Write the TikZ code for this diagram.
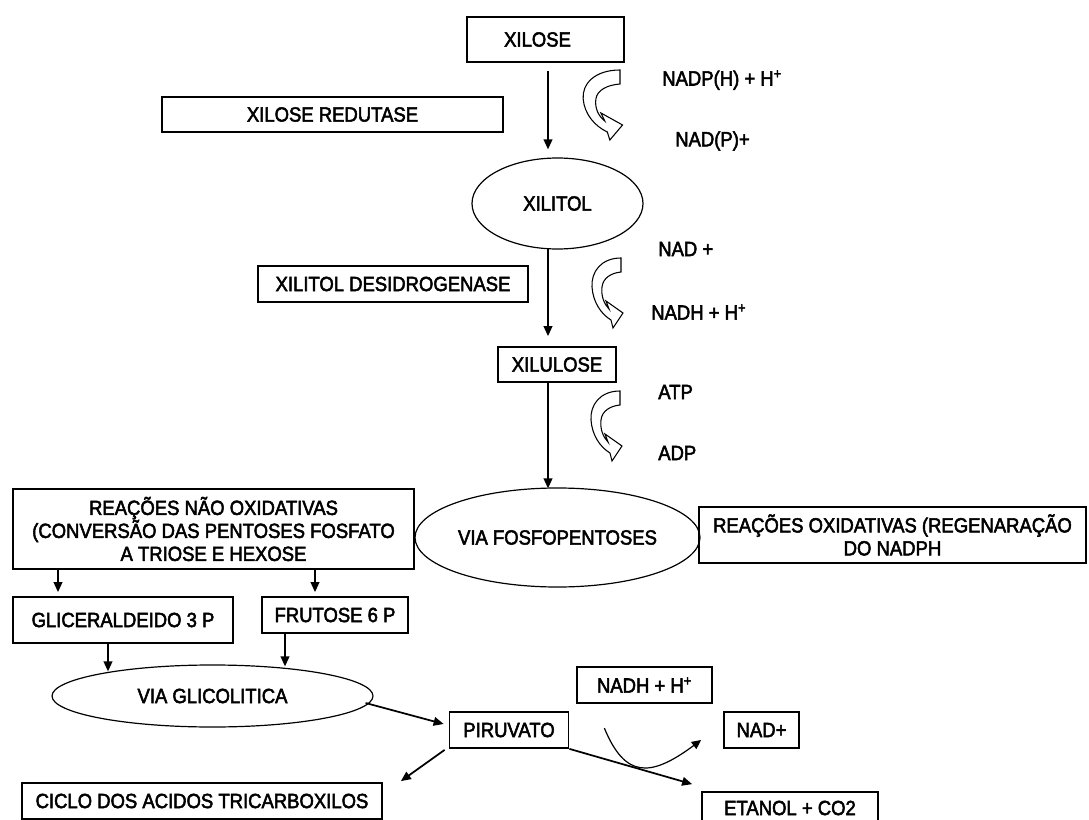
\documentclass[tikz,border=0pt]{standalone}
\usepackage{fontspec}
\setmainfont{Liberation Sans}[FakeStretch=0.9,FakeBold=2.5]
\usetikzlibrary{arrows.meta,calc,shapes.geometric}
\begin{document}
\begin{tikzpicture}[x=0.75pt,y=-0.75pt,
  every node/.style={font=\fontsize{15.4}{17.25}\selectfont, inner sep=0pt, align=center},
  box/.style={draw, line width=1.3pt, rectangle},
  ell/.style={draw, line width=0.9pt, ellipse},
  arr/.style={line width=1.3pt, -{Triangle[length=7.5pt,width=6.5pt]}},
  thinarr/.style={line width=0.9pt, -{Triangle[length=7pt,width=6.5pt]}},
  bentarr/.pic={\draw[line width=0.8pt, fill=white] (0,0) .. controls (-20,0) and (-30,14) .. (-29,29) .. controls (-28,44) and (-20,56) .. (-10,62) -- (-8,70) -- (2,55) -- (-15,43) -- (-12,51) .. controls (-17,46) and (-20,38) .. (-19,29) .. controls (-18,20) and (-10,15) .. (0,14) -- cycle;}
]
\useasboundingbox (0,0) rectangle (1089,820);
\fill[white] (0,0) rectangle (1089,820);

% nodes
\node[box, minimum width=117.75pt, minimum height=33.75pt] (xil) at (545.5,39.5) {\hspace*{-12pt}XILOSE};
\node[box, minimum width=255.75pt, minimum height=26.25pt] (xr) at (332.5,114.5) {XILOSE REDUTASE};
\node[ell, minimum width=128.25pt, minimum height=68.25pt] (xilitol) at (557.5,203.5) {XILITOL};
\node[box, minimum width=202.5pt, minimum height=27pt] (xd) at (393,284) {XILITOL DESIDROGENASE};
\node[box, minimum width=88.5pt, minimum height=26.25pt] (xilu) at (557,364.5) {XILULOSE};
\node[ell, minimum width=213.75pt, minimum height=74.25pt] (vf) at (557.5,537.5) {VIA FOSFOPENTOSES};
\node[box, minimum width=300.75pt, minimum height=60pt] (nox) at (213.5,529) {REAÇÕES NÃO OXIDATIVAS\\(CONVERSÃO DAS PENTOSES FOSFATO\\A TRIOSE E HEXOSE};
\node[box, minimum width=290.25pt, minimum height=42pt] (ox) at (892.5,535) {REAÇÕES OXIDATIVAS (REGENARAÇÃO\\DO NADPH};
\node[box, minimum width=165pt, minimum height=34.5pt] (gli) at (123,620) {GLICERALDEIDO 3 P};
\node[box, minimum width=109.5pt, minimum height=27pt] (fru) at (335,615) {FRUTOSE 6 P};
\node[ell, minimum width=240.75pt, minimum height=46.5pt] (vg) at (212.5,696) {VIA GLICOLITICA};
\node[box, minimum width=89.25pt, minimum height=27pt] (pir) at (509,730) {PIRUVATO};
\node[box, minimum width=101.25pt, minimum height=27pt] (nadh) at (644.5,685) {NADH + H\textsuperscript{+}};
\node[box, minimum width=56.25pt, minimum height=27pt] (nad) at (761.5,730) {NAD+};
\node[box, minimum width=270pt, minimum height=27pt] (cic) at (202,801) {CICLO DOS ACIDOS TRICARBOXILOS};
\node[box, minimum width=132pt, minimum height=24pt] (eta) at (790,808) {ETANOL + CO2};

% cofactor labels
\node[anchor=west] (l1) at (662,80) {NADP(H) + H\textsuperscript{+}};
\node[anchor=west] (l2) at (675,141) {NAD(P)+};
\node[anchor=west] (l3) at (658,249) {NAD +};
\node[anchor=west] (l4) at (651,312) {NADH + H\textsuperscript{+}};
\node[anchor=west] (l5) at (658,392) {ATP};
\node[anchor=west] (l6) at (658,453) {ADP};

% bent cofactor arrows
\pic[xscale=1.27] at (620,70) {bentarr};
\pic at (621,258) {bentarr};
\pic at (620,391) {bentarr};

% main chain
\coordinate (cx) at (548,0);
\draw[arr, shorten <=6pt, shorten >=6pt] (xil.south -| cx) -- (xilitol.north -| cx);
\draw[arr, shorten >=7.5pt] ($(xilitol.south -| cx)+(0,-1)$) -- (xilu.north -| cx);
\draw[arr] (xilu.south -| cx) -- ($(vf.north -| cx)+(0,1)$);

% branches from non oxidative box
\coordinate (g1) at (58,0);
\coordinate (g2) at (315,0);
\draw[arr, shorten >=3pt] (nox.south -| g1) -- (gli.north -| g1);
\draw[arr, shorten >=3pt] (nox.south -| g2) -- (fru.north -| g2);

% into glycolysis
\coordinate (g3) at (108,0);
\coordinate (g4) at (285,0);
\draw[arr] (gli.south -| g3) -- ($(vg.north -| g3)+(0,7)$);
\draw[arr] (fru.south -| g4) -- ($(vg.north -| g4)+(0,2)$);

% glycolysis to pyruvate and beyond
\draw[arr] ($(vg.east)+(-8,7)$) -- ($(pir.west)+(-5,-6)$);
\draw[arr] ($(pir.south west)+(-4,1)$) -- ($(cic.north east)+(18,-1)$);
\draw[arr] (pir.south east) -- ($(eta.north west)+(-9,-7)$);
\draw[thinarr] ($(pir.north east)+(35,17)$) .. controls (625,778) and (650,778) .. ($(nad.west)+(-22,10)$);
\end{tikzpicture}
\end{document}
